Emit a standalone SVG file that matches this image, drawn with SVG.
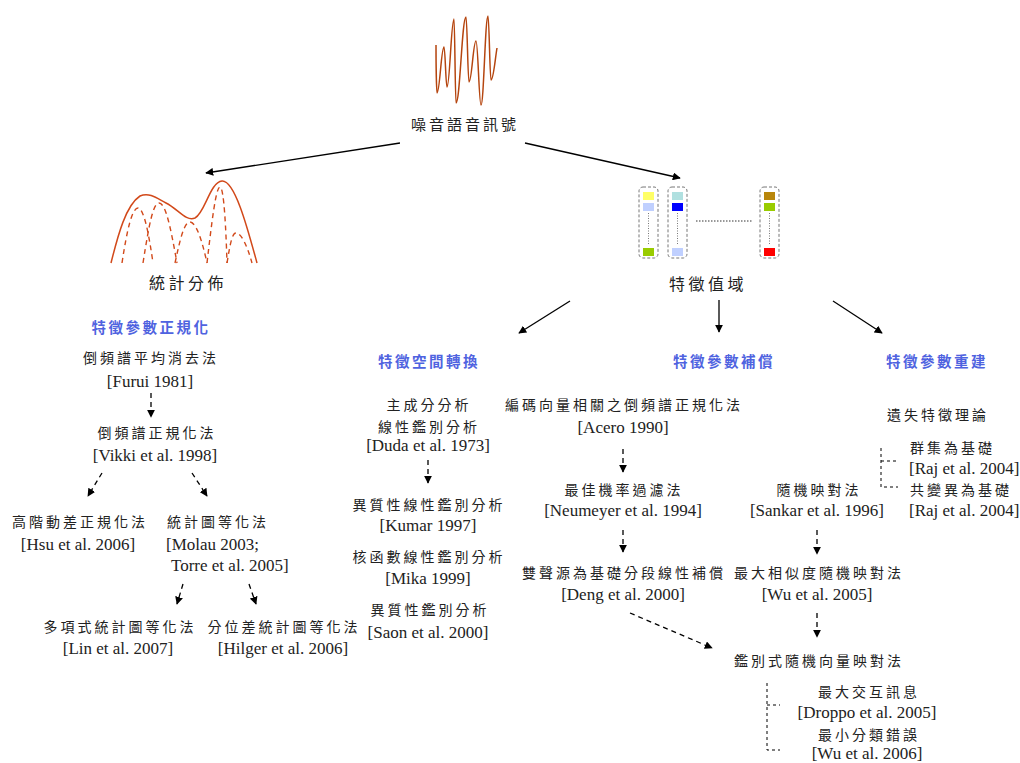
<svg xmlns="http://www.w3.org/2000/svg" width="1020" height="763" viewBox="0 0 1020 763">
<style>
.cj{font-family:"Noto Sans CJK TC","Noto Sans CJK SC",sans-serif;font-size:14px;letter-spacing:3px;fill:#222;text-anchor:middle}
.big{font-family:"Noto Sans CJK TC",sans-serif;font-size:16px;letter-spacing:3.5px;fill:#222;text-anchor:middle}
.hd{font-family:"Noto Sans CJK TC",sans-serif;font-size:14.5px;letter-spacing:2.5px;font-weight:bold;fill:#4F63E0;text-anchor:middle}
.lt{font-family:"Liberation Serif","Times New Roman",serif;font-size:17px;fill:#222;text-anchor:middle}
.sa{stroke:#000;stroke-width:1.3;fill:none;marker-end:url(#ah)}
.da{stroke:#000;stroke-width:1.3;fill:none;stroke-dasharray:5,4;marker-end:url(#ah)}
.br{stroke:#000;stroke-width:1;fill:none;stroke-dasharray:3,3}
.hump{stroke:#D2491A;stroke-width:1.4;fill:none;stroke-dasharray:5,4}
.box{fill:none;stroke:#777;stroke-width:1;stroke-dasharray:3,2}
</style>
<defs>
<marker id="ah" viewBox="0 0 10 10" refX="9" refY="5" markerWidth="8" markerHeight="8" markerUnits="userSpaceOnUse" orient="auto">
<path d="M0,0 L10,5 L0,10 z" fill="#000"/>
</marker>
</defs>
<rect width="1020" height="763" fill="#fff"/>

<g id="noisy-signal">
<path d="M436,45 C436,70 436.6,93 437,93 C439.8,93 441.2,47 444,47 C445.2,47 445.8,87 447,87 C449.8,87 451.2,19 454,19 C454.8,19 455.2,103 456,103 C460,103 462,17 466,17 C467.2,17 467.8,82 469,82 C471.8,82 473.2,41 476,41 C478,41 479,105 481,105 C483.8,105 485.2,16 488,16 C489.2,16 489.8,80 491,80 C493.4,80 495,60 497,48" fill="none" stroke="#B5450F" stroke-width="1.5"/>
<text class="big" x="465" y="130" style="font-size:15px;letter-spacing:3px">噪音語音訊號</text>
</g>

<g id="stat-dist">
<path d="M111,263 C118,235 126,205 140,196 C150,192 158,199 166,203 C178,209 186,222 195,218 C205,213 210,182 222,181 C235,180 248,230 257,263" fill="none" stroke="#D2491A" stroke-width="1.5"/>
<path class="hump" d="M122,263 C127,230 132,208 138,208 C144,208 149,235 153,263"/>
<path class="hump" d="M143,263 C149,225 153,203 159,203 C166,203 171,230 177,263"/>
<path class="hump" d="M175,263 C180,240 184,222 190,222 C196,222 202,240 207,263"/>
<path class="hump" d="M207,263 C212,220 216,187 220,187 C224,187 226,230 227,263"/>
<path class="hump" d="M227,263 C230,245 232,233 236,233 C241,233 247,245 252,263"/>
<text class="big" x="188" y="289">統計分佈</text>
</g>

<g id="feature-domain">
<rect class="box" x="639" y="187" width="19" height="71" rx="4"/>
<rect x="643" y="192" width="11" height="8" fill="#FFFF66"/>
<rect x="643" y="203" width="11" height="8" fill="#C0D0FF"/>
<line x1="648.5" y1="213" x2="648.5" y2="244" stroke="#555" stroke-width="0.8" stroke-dasharray="1,1.5"/>
<rect x="643" y="248" width="11" height="8" fill="#99CC00"/>
<rect class="box" x="668" y="187" width="19" height="71" rx="4"/>
<rect x="672" y="192" width="11" height="8" fill="#B0E0E0"/>
<rect x="672" y="203" width="11" height="8" fill="#0000FF"/>
<line x1="677.5" y1="213" x2="677.5" y2="244" stroke="#555" stroke-width="0.8" stroke-dasharray="1,1.5"/>
<rect x="672" y="248" width="11" height="8" fill="#C0D0FF"/>
<line x1="696" y1="221" x2="752" y2="221" stroke="#333" stroke-width="1" stroke-dasharray="1.5,1.5"/>
<rect class="box" x="760" y="187" width="19" height="71" rx="4"/>
<rect x="764" y="192" width="11" height="8" fill="#B8860B"/>
<rect x="764" y="203" width="11" height="8" fill="#99CC00"/>
<line x1="769.5" y1="213" x2="769.5" y2="244" stroke="#555" stroke-width="0.8" stroke-dasharray="1,1.5"/>
<rect x="764" y="248" width="11" height="8" fill="#FF0000"/>
<text class="big" x="708" y="290">特徵值域</text>
</g>

<g id="connectors">
<line class="sa" x1="400" y1="143" x2="206" y2="173"/>
<line class="sa" x1="525" y1="143" x2="680" y2="178"/>
<line class="sa" x1="570" y1="301" x2="519" y2="333"/>
<line class="sa" x1="719" y1="300" x2="719" y2="332"/>
<line class="sa" x1="833" y1="301" x2="882" y2="333"/>
<line class="da" x1="151" y1="393" x2="151" y2="417"/>
<line class="da" x1="102" y1="473" x2="88" y2="496"/>
<line class="da" x1="192" y1="473" x2="207" y2="496"/>
<line class="da" x1="183" y1="584" x2="177" y2="604"/>
<line class="da" x1="249" y1="584" x2="256" y2="604"/>
<line class="da" x1="428" y1="460" x2="428" y2="483"/>
<line class="da" x1="623" y1="449" x2="623" y2="472"/>
<line class="da" x1="623" y1="530" x2="623" y2="552"/>
<line class="da" x1="630" y1="613" x2="712" y2="648"/>
<line class="da" x1="817" y1="530" x2="817" y2="554"/>
<line class="da" x1="817" y1="613" x2="817" y2="637"/>
<path class="br" d="M767,683 V750 H780 M767,705 H780"/>
<path class="br" d="M881,448 V487 H898 M881,461 H898"/>
</g>

<g id="normalization">
<text class="hd" x="151" y="333">特徵參數正規化</text>
<text class="cj" x="151" y="363">倒頻譜平均消去法</text>
<text class="lt" x="150" y="387">[Furui 1981]</text>
<text class="cj" x="157" y="438">倒頻譜正規化法</text>
<text class="lt" x="155" y="461">[Vikki et al. 1998]</text>
</g>
<g id="hos">
<text class="cj" x="80" y="527">高階動差正規化法</text>
<text class="lt" x="78" y="550">[Hsu et al. 2006]</text>
</g>
<g id="heq">
<text class="cj" x="218" y="527">統計圖等化法</text>
<text class="lt" x="166" y="550" style="text-anchor:start">[Molau 2003;</text>
<text class="lt" x="171" y="571" style="text-anchor:start">Torre et al. 2005]</text>
</g>
<g id="pheq">
<text class="cj" x="120" y="632">多項式統計圖等化法</text>
<text class="lt" x="118" y="654">[Lin et al. 2007]</text>
</g>
<g id="qheq">
<text class="cj" x="284" y="632">分位差統計圖等化法</text>
<text class="lt" x="283" y="654">[Hilger et al. 2006]</text>
</g>

<g id="transform">
<text class="hd" x="429" y="367">特徵空間轉換</text>
<text class="cj" x="429" y="410">主成分分析</text>
<text class="cj" x="429" y="432">線性鑑別分析</text>
<text class="lt" x="428" y="451">[Duda et al. 1973]</text>
</g>
<g id="hlda">
<text class="cj" x="429" y="510">異質性線性鑑別分析</text>
<text class="lt" x="428" y="531">[Kumar 1997]</text>
</g>
<g id="klda">
<text class="cj" x="429" y="562">核函數線性鑑別分析</text>
<text class="lt" x="428" y="584">[Mika 1999]</text>
</g>
<g id="hda">
<text class="cj" x="430" y="615">異質性鑑別分析</text>
<text class="lt" x="428" y="638">[Saon et al. 2000]</text>
</g>

<g id="compensation">
<text class="hd" x="724" y="367">特徵參數補償</text>
</g>
<g id="cdcn">
<text class="cj" x="624" y="410">編碼向量相關之倒頻譜正規化法</text>
<text class="lt" x="623" y="433">[Acero 1990]</text>
</g>
<g id="pof">
<text class="cj" x="624" y="495">最佳機率過濾法</text>
<text class="lt" x="623" y="516">[Neumeyer et al. 1994]</text>
</g>
<g id="splice">
<text class="cj" x="624" y="578">雙聲源為基礎分段線性補償</text>
<text class="lt" x="623" y="600">[Deng et al. 2000]</text>
</g>
<g id="sm">
<text class="cj" x="819" y="495">隨機映對法</text>
<text class="lt" x="817" y="516">[Sankar et al. 1996]</text>
</g>
<g id="mlsm">
<text class="cj" x="819" y="578">最大相似度隨機映對法</text>
<text class="lt" x="817" y="600">[Wu et al. 2005]</text>
</g>
<g id="dsvm">
<text class="cj" x="819" y="666">鑑別式隨機向量映對法</text>
</g>
<g id="mmi">
<text class="cj" x="869" y="697">最大交互訊息</text>
<text class="lt" x="867" y="718">[Droppo et al. 2005]</text>
</g>
<g id="mce">
<text class="cj" x="869" y="740">最小分類錯誤</text>
<text class="lt" x="867" y="759">[Wu et al. 2006]</text>
</g>

<g id="reconstruction">
<text class="hd" x="937" y="367">特徵參數重建</text>
<text class="cj" x="938" y="420">遺失特徵理論</text>
</g>
<g id="cluster">
<text class="cj" x="910" y="453" style="text-anchor:start">群集為基礎</text>
<text class="lt" x="909" y="474" style="text-anchor:start">[Raj et al. 2004]</text>
</g>
<g id="covariance">
<text class="cj" x="910" y="495" style="text-anchor:start">共變異為基礎</text>
<text class="lt" x="909" y="516" style="text-anchor:start">[Raj et al. 2004]</text>
</g>
</svg>
